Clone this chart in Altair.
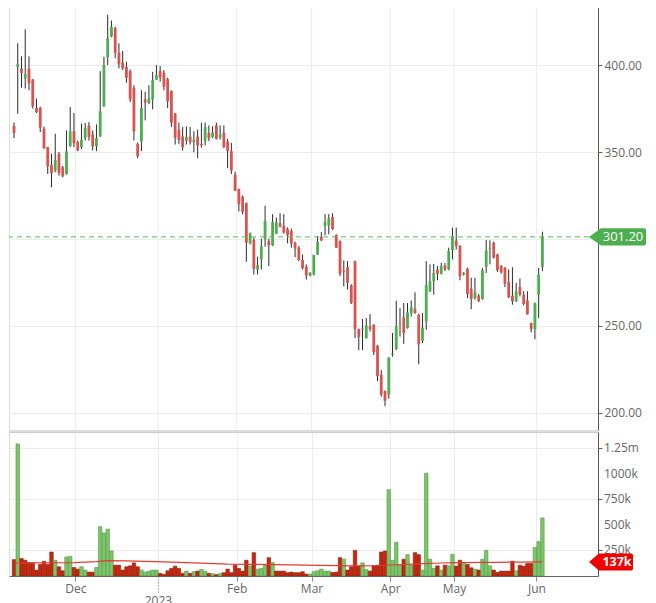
import altair as alt
import pandas as pd

# ---------------- data ----------------
months = ["Dec", "2023", "Feb", "Mar", "Apr", "May", "Jun"]
month_first_idx = [17, 39, 60, 80, 101, 118, 140]   # trading-day index of first session of month

opens = [365, 399, 398, 392.3, 398, 391.7, 375.3, 375.5, 363.4, 352.8,
         342.6, 339.3, 349, 341.2, 337.4, 353.4, 361.9, 355.7, 352.8, 358,
         365.3, 360.1, 353.4, 359.1, 376.5, 404.4, 416.4, 421.2, 407.1, 401.4,
         399, 396.5, 386.9, 354.7, 356.1, 380.3, 378.4, 380.2, 391.7, 396.5,
         395.6, 391.9, 385, 372.1, 362.8, 358.9, 356.6, 358.9, 355.7, 358.9,
         354.6, 356.3, 361.1, 358.6, 365.3, 358.6, 361.1, 356.1, 350.5, 337,
         328.7, 324.3, 320.6, 297.5, 299.4, 282.5, 288.3, 300.2, 298.8, 296.4,
         303.1, 309.1, 307.5, 305.6, 304.6, 297.9, 295, 287.9, 284, 279,
         279.6, 291.1, 301.2, 307.5, 307.9, 312.7, 302.3, 298.8, 281.8, 283.8,
         273.4, 287.3, 248.2, 248.5, 243, 249.7, 250.7, 238.7, 221.8, 212.6,
         210.6, 233.6, 236.6, 251.0, 254.9, 248.8, 257.4, 260, 256.5, 241.4,
         252.6, 270, 275.7, 282.5, 280, 284.8, 282.5, 293.6, 299.2, 296,
         279.6, 282.9, 271.5, 266.1, 267.4, 265.5, 284, 294.4, 297.9, 291.1,
         284.4, 283.4, 275.3, 267.4, 264.2, 272.3, 268, 264.7, 251.6, 248.2,
         268, 284]
highs = [367, 412.5, 405, 420.6, 405, 392, 380.7, 376, 364.7, 353,
         349, 360.5, 350, 342, 362.4, 375.9, 372.4, 356.6, 366.3, 366.7,
         367.2, 362.4, 365.9, 396.5, 404.8, 428.9, 425.6, 422, 412.5, 408.1,
         401.9, 397.5, 388.4, 355.5, 385.5, 384.6, 388.4, 396.1, 400, 399.4,
         397.1, 392.7, 385.5, 372.5, 366.9, 364.4, 364.7, 364.4, 362, 362.8,
         366.9, 366.9, 365.3, 364.9, 366.9, 365.3, 365.3, 357.6, 355.3, 338.7,
         329, 325, 321, 303.7, 300.8, 289.8, 300.2, 319.1, 300.2, 314.3,
         312.3, 314.8, 314.3, 306.6, 306, 298.5, 296, 291.1, 285.4, 281,
         291, 301.7, 304, 314.3, 314.3, 314.8, 302.7, 299.2, 287.7, 287.3,
         274, 287.5, 248.5, 254, 254.5, 256.8, 251, 239, 224.7, 213,
         232, 245.9, 264.6, 260.3, 263.2, 263.2, 264.7, 269.4, 257, 257.4,
         287.3, 285.4, 285.7, 284.4, 286.3, 286.3, 295, 306.6, 306.6, 296.5,
         281, 283.5, 277.7, 277.7, 268.4, 283.4, 299.4, 299.2, 298.5, 291.5,
         285, 284, 282.5, 283.8, 274.8, 277.3, 270, 270, 252, 263.5,
         283.4, 304.2]
lows = [358, 372, 387, 386.5, 385.5, 375, 372.4, 361.5, 351.8, 337.4,
        329.7, 338.3, 336.4, 335.5, 337, 353, 352.8, 350.5, 351.8, 356.6,
        356.6, 350.9, 350.5, 358.6, 375.9, 400, 416, 403.9, 398.1, 397.1,
        389.8, 378.8, 356.6, 346.4, 350.5, 368.2, 377.5, 374.6, 391.3, 390.4,
        385.5, 375.3, 364.4, 354.3, 354.7, 350.9, 354.3, 354.3, 349.9, 346.4,
        352.5, 353.8, 356.3, 358, 357.2, 357.2, 352.2, 340.8, 337.4, 327.5,
        315.8, 314.2, 286.9, 296.9, 279.6, 279.6, 282.5, 295.6, 284.4, 296,
        302.8, 306.6, 303.1, 297.5, 295, 289.6, 287.3, 282.5, 276.7, 278.5,
        279, 290.8, 298.8, 302.1, 302.7, 305.2, 294.8, 278.6, 272.8, 270.9,
        262.6, 243, 236.2, 236.2, 242.8, 246.8, 233.3, 218.3, 209.3, 203.9,
        208.3, 232.4, 236.2, 243.9, 239.7, 248.5, 255.5, 257, 228, 240.1,
        247.8, 269.5, 268, 276.3, 279.6, 281.5, 282, 288.3, 294, 276.3,
        279, 266.1, 259.7, 265.1, 263.8, 265.1, 280.5, 285.4, 288.8, 281,
        280, 272.3, 266.1, 262.2, 263.8, 267, 261.9, 256.5, 246.3, 242.4,
        254.5, 281.5]
closes = [361, 400.5, 395.5, 394.8, 389.4, 376.3, 373, 364, 352.2, 341.8,
          337.8, 345.5, 337.8, 336, 350.3, 361.9, 355.1, 350.9, 357, 363.8,
          358.6, 353.2, 358, 373.4, 400, 415.4, 421.8, 407.1, 400.4, 398.1,
          392.7, 380.3, 361.9, 347.6, 375.3, 378.4, 380.7, 391.3, 394.2, 392.7,
          387.5, 379.2, 366.9, 358.2, 357, 352.8, 358.6, 355.7, 357, 353.8,
          354.0, 364.4, 358, 361.1, 357.6, 360.1, 352.8, 350.5, 339.3, 327.8,
          320, 315.6, 297.9, 303.3, 282.8, 285, 295.9, 310.4, 296.4, 309.8,
          309.6, 307.1, 303.7, 302.1, 297.3, 294.6, 287.9, 283.4, 279, 280.5,
          290.8, 298.3, 299.2, 309.8, 311.8, 305.6, 295, 280, 281.2, 274.8,
          263.2, 248.2, 243.6, 248.0, 250.3, 248.2, 234.9, 221.2, 210.6, 207,
          231.8, 234.2, 249.7, 251.6, 245.9, 257.8, 260.7, 257.4, 239.5, 249.1,
          273.4, 275.7, 280.5, 280, 284.4, 282.5, 293.1, 301.2, 296, 278.6,
          280.5, 268.4, 265.5, 269.4, 264.2, 282.1, 293.5, 294.8, 289.2, 282.1,
          281, 274.4, 266.5, 264.2, 270, 268, 262.6, 256.8, 248.2, 263.2,
          279.6, 301.2]
volumes_k = [160, 1290, 170, 154, 131, 128, 58, 112, 144, 112,
             234, 154, 90, 51, 186, 192, 83, 67, 90, 58,
             38, 38, 83, 481, 420, 458, 244, 106, 106, 58,
             90, 99, 128, 90, 58, 38, 48, 58, 58, 26,
             16, 51, 74, 96, 74, 26, 48, 26, 42, 48,
             64, 48, 26, 22, 13, 26, 32, 67, 32, 106,
             74, 48, 154, 99, 228, 67, 74, 106, 179, 131,
             48, 48, 48, 32, 38, 32, 32, 42, 19, 19,
             42, 51, 67, 48, 48, 35, 38, 179, 164, 58,
             90, 250, 96, 128, 64, 48, 100, 106, 234, 244,
             842, 154, 330, 106, 164, 208, 106, 228, 208, 58,
             1003, 164, 74, 99, 58, 106, 99, 212, 96, 154,
             131, 112, 80, 67, 58, 164, 250, 99, 58, 35,
             48, 48, 48, 144, 51, 106, 96, 122, 122, 279,
             336, 567]
ma_idx = [0, 5, 16, 22, 25, 30, 40, 50, 57, 65, 74, 82, 90, 97, 102, 108, 114, 118, 128, 135, 141]
ma_k = [127, 129, 131, 140, 150, 148, 138, 125, 116, 113, 108, 103, 99, 100, 110, 118, 127, 131, 134, 136, 137]

price_ticks = [200, 250, 300, 350, 400]
vol_ticks = [250000, 500000, 750000, 1000000, 1250000]
vol_tick_labels = ["250k", "500k", "750k", "1000k", "1.25m"]

# ---------------- tables ----------------
rows = []
for i in range(len(opens)):
    prev_close = closes[i - 1] if i > 0 else opens[i]
    rows.append({
        "i": i, "open": opens[i], "high": highs[i], "low": lows[i], "close": closes[i],
        "dir": "up" if closes[i] >= opens[i] else "down",
        "vdir": "up" if closes[i] >= prev_close else "down",
        "volume": volumes_k[i] * 1000,
    })
df = pd.DataFrame(rows)
ma_df = pd.DataFrame({"i": ma_idx, "ma": [v * 1000 for v in ma_k]})
last_df = pd.DataFrame({"p": [closes[-1]]})
ma_last_df = pd.DataFrame({"v": [ma_k[-1] * 1000]})
one_df = pd.DataFrame({"a": [0]})
vlab_df = pd.DataFrame({"v": vol_ticks, "lab": vol_tick_labels})

tick_vals = [round(m - 0.6, 1) for m in month_first_idx]
tick_df = pd.DataFrame({"t": tick_vals})
year_tick = tick_vals[1]
label_expr = "''"
for v, name in reversed(list(zip(tick_vals, months))):
    label_expr = f"datum.value == {v} ? '{name}' : ({label_expr})"

# ---------------- styles ----------------
W = 589
GREEN = "#4cae50"
RED = "#d9534f"
VGREEN = "#7fc46d"
VGREEN_S = "#4e9c3e"
VRED = "#c2270f"
VRED_S = "#981b08"
GRID = "#ececec"
FONT = "Open Sans"
LABEL = "#666666"

xscale = alt.Scale(domain=[0, 154.5], nice=False, zero=False)
last_label = f"{closes[-1]:.2f}"
hidden_price_label = f"{round(closes[-1] / 50) * 50:.2f}"   # covered by the price tag

# ---------------- price panel ----------------
y_price = alt.Y("low:Q", scale=alt.Scale(domain=[190.2, 437.4], nice=False, zero=False),
                axis=alt.Axis(orient="right", values=price_ticks, title=None,
                              labelExpr=f"format(datum.value, '.2f') == '{hidden_price_label}' ? '' : format(datum.value, '.2f')",
                              grid=True, gridColor=GRID, tickSize=4, tickColor=LABEL,
                              domainColor="#555", labelColor=LABEL, labelFontSize=12,
                              labelFont=FONT, labelPadding=2, labelOverlap=False))

vgrid = alt.Chart(tick_df).mark_rule(color=GRID, strokeWidth=1).encode(
    x=alt.X("t:Q", scale=xscale, axis=None))
base = alt.Chart(df)
wicks = base.mark_rule(color="#2b2b2b", strokeWidth=1, clip=True).encode(
    x=alt.X("i:Q", scale=xscale, axis=None), y=y_price, y2="high:Q")
bodies = base.mark_bar(size=2.8, clip=True).encode(
    x=alt.X("i:Q", axis=None), y="open:Q", y2="close:Q",
    color=alt.Color("dir:N", scale=alt.Scale(domain=["up", "down"], range=[GREEN, RED]), legend=None))

dashed = alt.Chart(last_df).mark_rule(color="#5cb85c", strokeDash=[5, 4], strokeWidth=1).encode(
    y="p:Q")
tag_path = "M-1,0L-0.58,-0.3L0.93,-0.3Q1,-0.3,1,-0.23L1,0.23Q1,0.3,0.93,0.3L-0.58,0.3Z"
price_tag = alt.Chart(last_df).mark_point(shape=tag_path, size=3249, filled=True, opacity=1,
                                          color="#4cae4f", strokeWidth=0).encode(
    x=alt.value(608.5), y="p:Q")
price_tag_text = alt.Chart(last_df).mark_text(color="white", fontSize=13, font=FONT,
                                              align="center", baseline="middle").encode(
    x=alt.value(614), y="p:Q", text=alt.value(last_label))

price = alt.layer(vgrid, wicks, bodies, dashed, price_tag, price_tag_text).properties(width=W, height=430)

# ---------------- volume panel ----------------
cond = f"datum.value == {year_tick}"
x_vol = alt.X("i:Q", scale=xscale,
              axis=alt.Axis(values=tick_vals, labelExpr=label_expr, grid=True, gridColor=GRID,
                            title=None, labelOverlap=False, labelFlush=False,
                            tickSize={"condition": {"test": cond, "value": 18}, "value": 5},
                            tickDash={"condition": {"test": cond, "value": [1, 2]}, "value": [1, 0]},
                            labelPadding={"condition": {"test": cond, "value": 1}, "value": 2},
                            tickColor=LABEL, domainColor=LABEL, labelColor=LABEL,
                            labelFontSize=12, labelFont=FONT))
y_vol = alt.Y("volume:Q", scale=alt.Scale(domain=[0, 1406000], nice=False),
              axis=alt.Axis(orient="right", values=vol_ticks, title=None, grid=True, gridColor=GRID,
                            labels=False, tickSize=4, tickColor=LABEL, domainColor="#555"))

vbars = alt.Chart(df).mark_bar(size=3.5, strokeWidth=0.6, clip=True).encode(
    x=x_vol, y=y_vol,
    fill=alt.Fill("vdir:N", scale=alt.Scale(domain=["up", "down"], range=[VGREEN, VRED]), legend=None),
    stroke=alt.Stroke("vdir:N", scale=alt.Scale(domain=["up", "down"], range=[VGREEN_S, VRED_S]), legend=None))
ma_line = alt.Chart(ma_df).mark_line(color="#e53b30", strokeWidth=1.2, clip=True).encode(
    x="i:Q", y="ma:Q")
sep = alt.Chart(one_df).mark_rule(color="#bbbbbb", strokeWidth=1).encode(y=alt.value(0))
vlabels = alt.Chart(vlab_df).mark_text(align="left", baseline="middle", fontSize=12, font=FONT,
                                       color=LABEL).encode(
    x=alt.value(W + 6), y="v:Q", text="lab:N")
vtag_path = "M-1,0L-0.545,-0.39L0.92,-0.39Q1,-0.39,1,-0.31L1,0.31Q1,0.39,0.92,0.39L-0.545,0.39Z"
vol_tag = alt.Chart(ma_last_df).mark_point(shape=vtag_path, size=1936, filled=True, opacity=1,
                                           color="#f20000", strokeWidth=0).encode(
    x=alt.value(602), y="v:Q")
vol_tag_text = alt.Chart(ma_last_df).mark_text(color="white", fontSize=12.5, font=FONT,
                                               fontWeight="bold", align="center",
                                               baseline="middle").encode(
    x=alt.value(608), y="v:Q", text=alt.value(f"{ma_k[-1]}k"))

volume = alt.layer(vbars, ma_line, sep, vlabels, vol_tag, vol_tag_text).properties(width=W, height=144)

chart = alt.vconcat(price, volume, spacing=0).properties(
    padding={"left": 0, "top": -9, "right": 0, "bottom": 0}
).configure_view(stroke=None).configure(font=FONT)

chart.save("out.html", embed_options={"renderer": "svg", "actions": False})
